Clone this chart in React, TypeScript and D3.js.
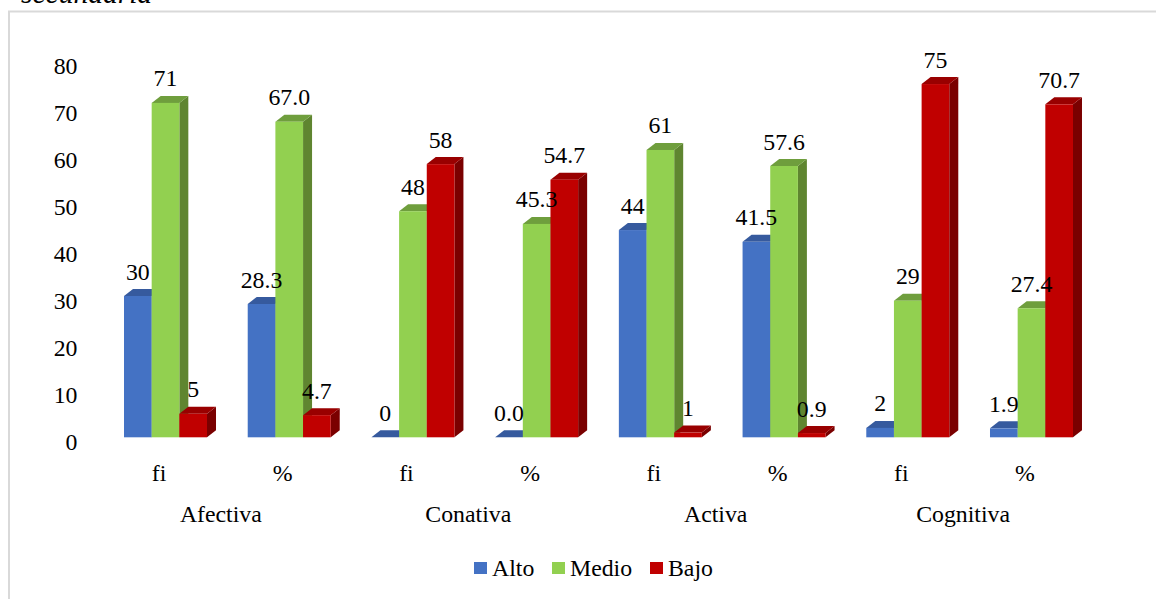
import React from "react";
import * as d3 from "d3";

const groups = ["Afectiva", "Conativa", "Activa", "Cognitiva"];
const measures = ["fi", "%"];
const seriesNames = ["Alto", "Medio", "Bajo"];
const alto = [30, 28.3, 0, 0.0, 44, 41.5, 2, 1.9];
const medio = [71, 67.0, 48, 45.3, 61, 57.6, 29, 27.4];
const bajo = [5, 4.7, 58, 54.7, 1, 0.9, 75, 70.7];
const decimals = [false, true, false, true, false, true, false, true];
const yTicks = [0, 10, 20, 30, 40, 50, 60, 70, 80];
const frontColors = ["#4472c4", "#92d050", "#c00000"];
const topColors = ["#365a9e", "#6f9e3d", "#990000"];
const sideColors = ["#2f5091", "#5f8530", "#7a0000"];

const W = 1156;
const H = 599;
const SERIF = "'Liberation Serif', 'Times New Roman', serif";
const FS = 23.8;
const DX = 9;
const DY = 7;

const columns = d3.range(alto.length);
const x0 = d3.scaleBand<number>().domain(columns).range([103.65, 1093.35]);
const x1 = d3.scaleBand<number>().domain([0, 1, 2]).range([-41.5, 41.5]);
const y = d3.scaleLinear().domain([0, 80]).range([437.3, 60.5]);

const seriesValues = [alto, medio, bajo];

function Bar3D({ col, s }: { col: number; s: number }) {
  const v = seriesValues[s][col];
  const left = x0(col)! + x0.bandwidth() / 2 + x1(s)!;
  const w = x1.bandwidth();
  const top = y(v);
  const base = y(0);
  const poly = (pts: number[][]) => pts.map((p) => p.join(",")).join(" ");
  return (
    <g>
      <polygon
        fill={sideColors[s]}
        points={poly([
          [left + w, top],
          [left + w + DX, top - DY],
          [left + w + DX, base - DY],
          [left + w, base],
        ])}
      />
      <polygon
        fill={topColors[s]}
        points={poly([
          [left, top],
          [left + DX, top - DY],
          [left + w + DX, top - DY],
          [left + w, top],
        ])}
      />
      <rect x={left} y={top} width={w} height={base - top} fill={frontColors[s]} />
    </g>
  );
}

export default function App() {
  return (
    <svg
      width={W}
      height={H}
      viewBox={`0 0 ${W} ${H}`}
      style={{ position: "absolute", left: 0, top: 0, background: "#fff" }}
      fontFamily={SERIF}
      fontSize={FS}
      fill="#000"
    >
      <text x={21} y={3} fontSize={29.5} fontStyle="italic">secundaria</text>
      <path d={`M9 ${H}V11.5H${W}`} fill="none" stroke="#d9d9d9" strokeWidth={2} />

      {yTicks.map((t) => (
        <text key={t} x={77.5} y={y(t) + 13} textAnchor="end">{t}</text>
      ))}

      {columns.map((col) =>
        seriesNames.map((_, s) => <Bar3D key={`${col}-${s}`} col={col} s={s} />)
      )}

      {columns.map((col) =>
        seriesNames.map((_, s) => {
          const v = seriesValues[s][col];
          const cx = x0(col)! + x0.bandwidth() / 2 + x1(s)! + x1.bandwidth() / 2;
          return (
            <text key={`${col}-${s}`} x={cx} y={y(v) - 16.5} textAnchor="middle">
              {decimals[col] ? v.toFixed(1) : v}
            </text>
          );
        })
      )}

      {columns.map((col) => (
        <text key={col} x={x0(col)! + x0.bandwidth() / 2 - 6.5} y={481} textAnchor="middle">
          {measures[col % 2]}
        </text>
      ))}
      {groups.map((g, i) => (
        <text
          key={g}
          x={x0(i * 2)! + x0.bandwidth() - 6.5}
          y={522}
          textAnchor="middle"
        >
          {g}
        </text>
      ))}

      {seriesNames.map((name, s) => {
        const lx = [474, 552, 650][s];
        return (
          <g key={name}>
            <rect x={lx} y={562} width={13} height={12} fill={frontColors[s]} />
            <text x={lx + 18} y={576}>{name}</text>
          </g>
        );
      })}
    </svg>
  );
}
